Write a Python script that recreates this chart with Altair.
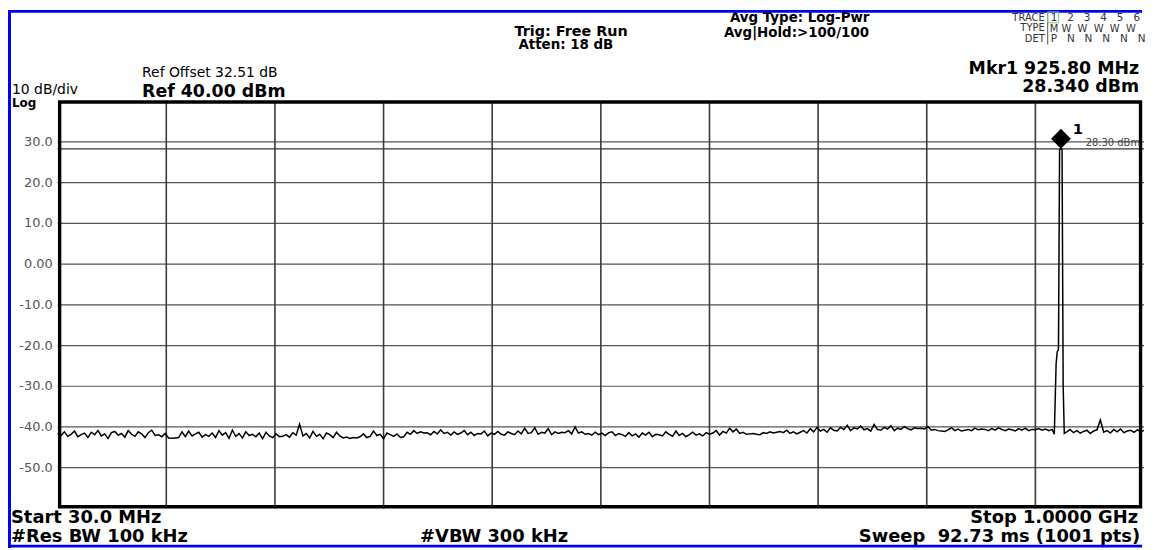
import altair as alt
import pandas as pd
import numpy as np

FONT = "DejaVu Sans"
BLUE = "#0000f0"

# ---- sweep / scale settings ----
start_mhz = 30.0
stop_mhz = 1000.0
ref_db = 40.0
bottom_db = -60.0

# ---- trace: noise floor left of the carrier (every 3 MHz from 30 MHz) ----
noise_left = [
    -41.6, -42.1, -41.2, -42.3, -41.8, -41.0, -42.4, -41.9, -41.5, -42.6, -41.3, -41.9, -40.9, -42.2, -41.7, -42.8, -41.4,
    -41.1, -42.0, -41.6, -42.5, -40.9, -41.8, -42.3, -41.2, -41.7, -42.6, -41.4, -40.8, -42.1, -41.9, -42.4, -41.6,
    -42.7, -42.8, -42.7, -42.6, -41.2, -42.4, -41.0, -42.2, -41.7, -41.3, -42.5, -41.9, -42.3, -41.5, -42.6, -40.9, -42.0,
    -41.4, -42.8, -40.8, -42.3, -41.6, -42.7, -41.2, -42.1, -41.8, -42.4, -41.5, -42.9, -41.3, -42.2, -42.6, -41.7,
    -42.4, -42.3, -41.9, -42.5, -41.4, -42.0, -39.3, -42.2, -41.6, -42.7, -41.1, -42.3, -41.8, -42.9, -41.5, -41.9, -42.6,
    -41.3, -42.2, -42.7, -42.5, -42.8, -42.6, -42.7, -42.4, -41.7, -42.6, -42.3, -41.0, -42.1, -41.8, -42.9, -41.5,
    -41.9, -42.3, -41.7, -42.6, -42.4, -41.3, -41.8, -40.9, -41.6, -41.2, -41.5, -41.4, -41.9, -41.1, -41.7, -40.7, -41.6,
    -41.3, -42.0, -41.2, -41.8, -41.5, -40.9, -41.9, -41.3, -42.1, -41.6, -41.7, -41.0, -42.2, -41.5, -41.8, -41.1,
    -41.8, -42.0, -41.2, -41.6, -41.9, -41.0, -41.7, -40.3, -41.6, -41.4, -40.2, -41.8, -41.3, -41.5, -40.4, -41.9, -41.2,
    -41.6, -41.3, -41.4, -40.9, -41.7, -40.0, -41.5, -41.2, -41.8, -41.6, -42.0, -41.3, -41.9, -41.5, -42.1, -41.4,
    -41.2, -42.1, -41.6, -41.9, -42.3, -41.4, -42.2, -41.7, -42.5, -41.5, -42.0, -41.3, -42.4, -41.8, -41.9, -42.2, -41.2,
    -41.8, -42.3, -41.0, -42.1, -41.6, -42.4, -41.9, -41.3, -42.0, -41.7, -42.2, -41.4, -41.8, -41.5, -40.9, -42.0,
    -41.1, -41.5, -40.3, -41.2, -40.5, -41.6, -41.3, -41.8, -41.7, -41.6, -41.8, -41.9, -41.4, -41.6, -41.2, -41.5, -41.3,
    -41.1, -41.4, -40.8, -41.6, -41.2, -41.7, -41.3, -40.9, -41.5, -40.4, -41.2, -40.1, -41.0, -40.6, -41.3, -40.2,
    -40.8, -41.0, -40.1, -40.6, -39.6, -40.9, -40.2, -40.5, -39.8, -40.7, -40.4, -41.0, -39.4, -40.6, -40.8, -40.1, -40.5,
    -39.7, -40.9, -40.3, -40.6, -39.9, -40.4, -40.7, -40.2, -40.4, -40.3, -40.5, -39.9, -40.8, -40.6, -40.9, -41.0,
    -41.1, -40.7, -40.2, -40.9, -40.5, -41.0, -40.8, -40.6, -40.9, -40.3, -40.7, -40.5, -40.6, -40.9, -40.4, -40.8, -40.2,
    -40.6, -40.9, -40.5, -40.7, -41.0, -40.4, -40.8, -40.3, -40.9, -40.6, -40.7, -40.4, -40.8, -40.5, -40.9, -40.6,
]
# ---- trace: carrier at 925.8 MHz ----
peak_freqs = [919.9, 921.5, 922.5, 923.6, 924.6, 925.8, 926.8, 927.8, 928.8]
peak_db = [-41.8, -24.5, -21.5, -21.0, 28.0, 28.34, 28.1, -30.0, -41.6]
# ---- trace: noise floor right of the carrier (every 3 MHz from 931 MHz) ----
noise_right = [
    -41.2, -40.6, -41.4, -40.9, -41.5, -41.1, -40.8, -41.6, -41.0, -40.7, -38.3, -41.3,
    -40.9, -41.5, -40.6, -41.2, -40.5, -41.4, -41.0, -40.8, -41.3, -40.7, -41.1, -40.9,
]

grid_freqs = [127, 224, 321, 418, 515, 612, 709, 806, 903]
grid_db = [30, 20, 10, 0, -10, -20, -30, -40, -50]
y_tick_labels = ["30.0", "20.0", "10.0", "0.00", "-10.0", "-20.0", "-30.0", "-40.0", "-50.0"]

marker_freq = 925.8
marker_db = 28.34
marker_name = "1"
display_line_db = 28.30
display_line_label = "28.30 dBm"

# ---- tables ----
freq_left = 30 + 3 * np.arange(len(noise_left))
freq_right = 931 + 3 * np.arange(len(noise_right))
trace = pd.DataFrame({
    "f": np.concatenate([freq_left, peak_freqs, freq_right]),
    "db": np.concatenate([noise_left, peak_db, noise_right]),
}).sort_values("f")

xs = alt.Scale(domain=[start_mhz, stop_mhz], nice=False, zero=False)
ys = alt.Scale(domain=[bottom_db, ref_db], nice=False, zero=False)
X = lambda field: alt.X(field, type="quantitative", scale=xs, axis=None)
Y = lambda field: alt.Y(field, type="quantitative", scale=ys, axis=None)

one = pd.DataFrame({"k": [0]})
OX, OY = 58, 100  # page position of the plot origin


def note(text, px, py, size, weight="normal", align="left", color="black"):
    return alt.Chart(pd.DataFrame({"t": [text]})).mark_text(
        align=align, baseline="alphabetic", fontSize=size, fontWeight=weight,
        color=color, font=FONT,
    ).encode(text="t:N", x=alt.value(px - OX), y=alt.value(py - OY))


hgrid = alt.Chart(pd.DataFrame({"db": grid_db})).mark_rule(
    color="#555555", strokeWidth=1.2).encode(y=Y("db"))
vgrid = alt.Chart(pd.DataFrame({"f": grid_freqs})).mark_rule(
    color="#3a3a3a", strokeWidth=1.6).encode(x=X("f"))
dline = alt.Chart(pd.DataFrame({"db": [display_line_db]})).mark_rule(
    color="#333333", strokeWidth=1.2).encode(y=Y("db"))

line = alt.Chart(trace).mark_line(
    color="black", strokeWidth=1.5, interpolate="linear").encode(
    x=X("f"), y=Y("db"), order="f:Q")

border = alt.Chart(one).mark_rect(
    fill="transparent", stroke="black", strokeWidth=3.4).encode(
    x=alt.value(2), x2=alt.value(1090.5), y=alt.value(0.7), y2=alt.value(408.3))

mk = pd.DataFrame({"f": [marker_freq], "db": [marker_db], "name": [marker_name]})
marker = alt.Chart(mk).mark_point(
    shape="M0,0L-1,-1L0,-2L1,-1Z", size=400, filled=True, color="black", opacity=1).encode(
    x=X("f"), y=Y("db"))
marker_lbl = alt.Chart(mk).mark_text(
    align="left", baseline="alphabetic", dx=12, dy=-15, fontSize=15, fontWeight="bold",
    font=FONT, color="black").encode(x=X("f"), y=Y("db"), text="name:N")

dl_lbl = alt.Chart(pd.DataFrame({"f": [stop_mhz], "db": [display_line_db], "t": [display_line_label]})).mark_text(
    align="right", baseline="alphabetic", dx=-4, dy=-3, fontSize=10, font=FONT, color="#444444").encode(
    x=X("f"), y=Y("db"), text="t:N")

ylabels = alt.Chart(pd.DataFrame({"db": grid_db, "t": y_tick_labels})).mark_text(
    align="right", baseline="middle", fontSize=13, font=FONT, color="#555555").encode(
    x=alt.value(-5), y=Y("db"), text="t:N")

NB = "\u00a0"
notes = [
    note("Trig: Free Run", 518, 34.5, 14.5, "bold"),
    note("Atten: 18 dB", 522, 47.5, 13.5, "bold"),
    note("Avg Type: Log-Pwr", 735, 20, 13.5, "bold"),
    note("Avg|Hold:>100/100", 729, 35, 13.5, "bold"),
    note("TRACE", 1052, 19, 10, align="right", color="#333333"),
    note("TYPE", 1052, 29.5, 10, align="right", color="#333333"),
    note("DET", 1052, 40, 10, align="right", color="#333333"),
    note((NB * 3).join(list("123456")), 1058, 19.5, 10.5, color="#333333"),
    note("M" + NB + (NB * 2).join(list("WWWWW")), 1057, 30, 10, color="#333333"),
    note("P" + NB * 3 + (NB * 3).join(list("NNNNN")), 1058, 40.5, 10.5, color="#333333"),
    note("Mkr1 925.80 MHz", 1147, 72.5, 17.5, "bold", "right"),
    note("28.340 dBm", 1147, 91, 17.5, "bold", "right"),
    note("Ref Offset 32.51 dB", 143, 75.5, 14),
    note("Ref 40.00 dBm", 143, 95.5, 17.5, "bold"),
    note("10 dB/div", 12, 93, 14),
    note("Log", 12, 106, 12, "bold"),
    note("Start 30.0 MHz", 11, 524.5, 18, "bold"),
    note("#Res BW 100 kHz", 11, 543.5, 18, "bold"),
    note("#VBW 300 kHz", 423, 543.5, 18, "bold"),
    note("Stop 1.0000 GHz", 1146, 524.5, 18, "bold", "right"),
    note("Sweep" + NB * 2 + "92.73 ms (1001 pts)", 1148, 543.5, 18, "bold", "right"),
]

frame = [
    alt.Chart(one).mark_rule(color=BLUE, strokeWidth=3).encode(
        x=alt.value(-50), x2=alt.value(1092), y=alt.value(-90.5)),
    alt.Chart(one).mark_rule(color=BLUE, strokeWidth=3).encode(
        x=alt.value(-48.5), y=alt.value(-92), y2=alt.value(450)),
    alt.Chart(one).mark_rule(color=BLUE, strokeWidth=3).encode(
        x=alt.value(-50), x2=alt.value(1092), y=alt.value(448)),
    alt.Chart(one).mark_rule(color="#555555", strokeWidth=1).encode(
        x=alt.value(997), y=alt.value(-90), y2=alt.value(-57)),
    alt.Chart(one).mark_rect(fill="transparent", stroke="#7fc27f", strokeWidth=1).encode(
        x=alt.value(997), x2=alt.value(1008), y=alt.value(-90), y2=alt.value(-79)),
]

chart = alt.layer(
    hgrid, vgrid, dline, line, border, marker, marker_lbl, dl_lbl, ylabels, *notes, *frame
).properties(
    width=1094, height=410,
    padding={"left": 50, "top": 92, "right": 4, "bottom": 40},
    autosize=alt.AutoSizeParams(type="none"),
    background="white",
).configure_view(strokeWidth=0)

chart.save("out.html", embed_options={"renderer": "svg", "actions": False})
